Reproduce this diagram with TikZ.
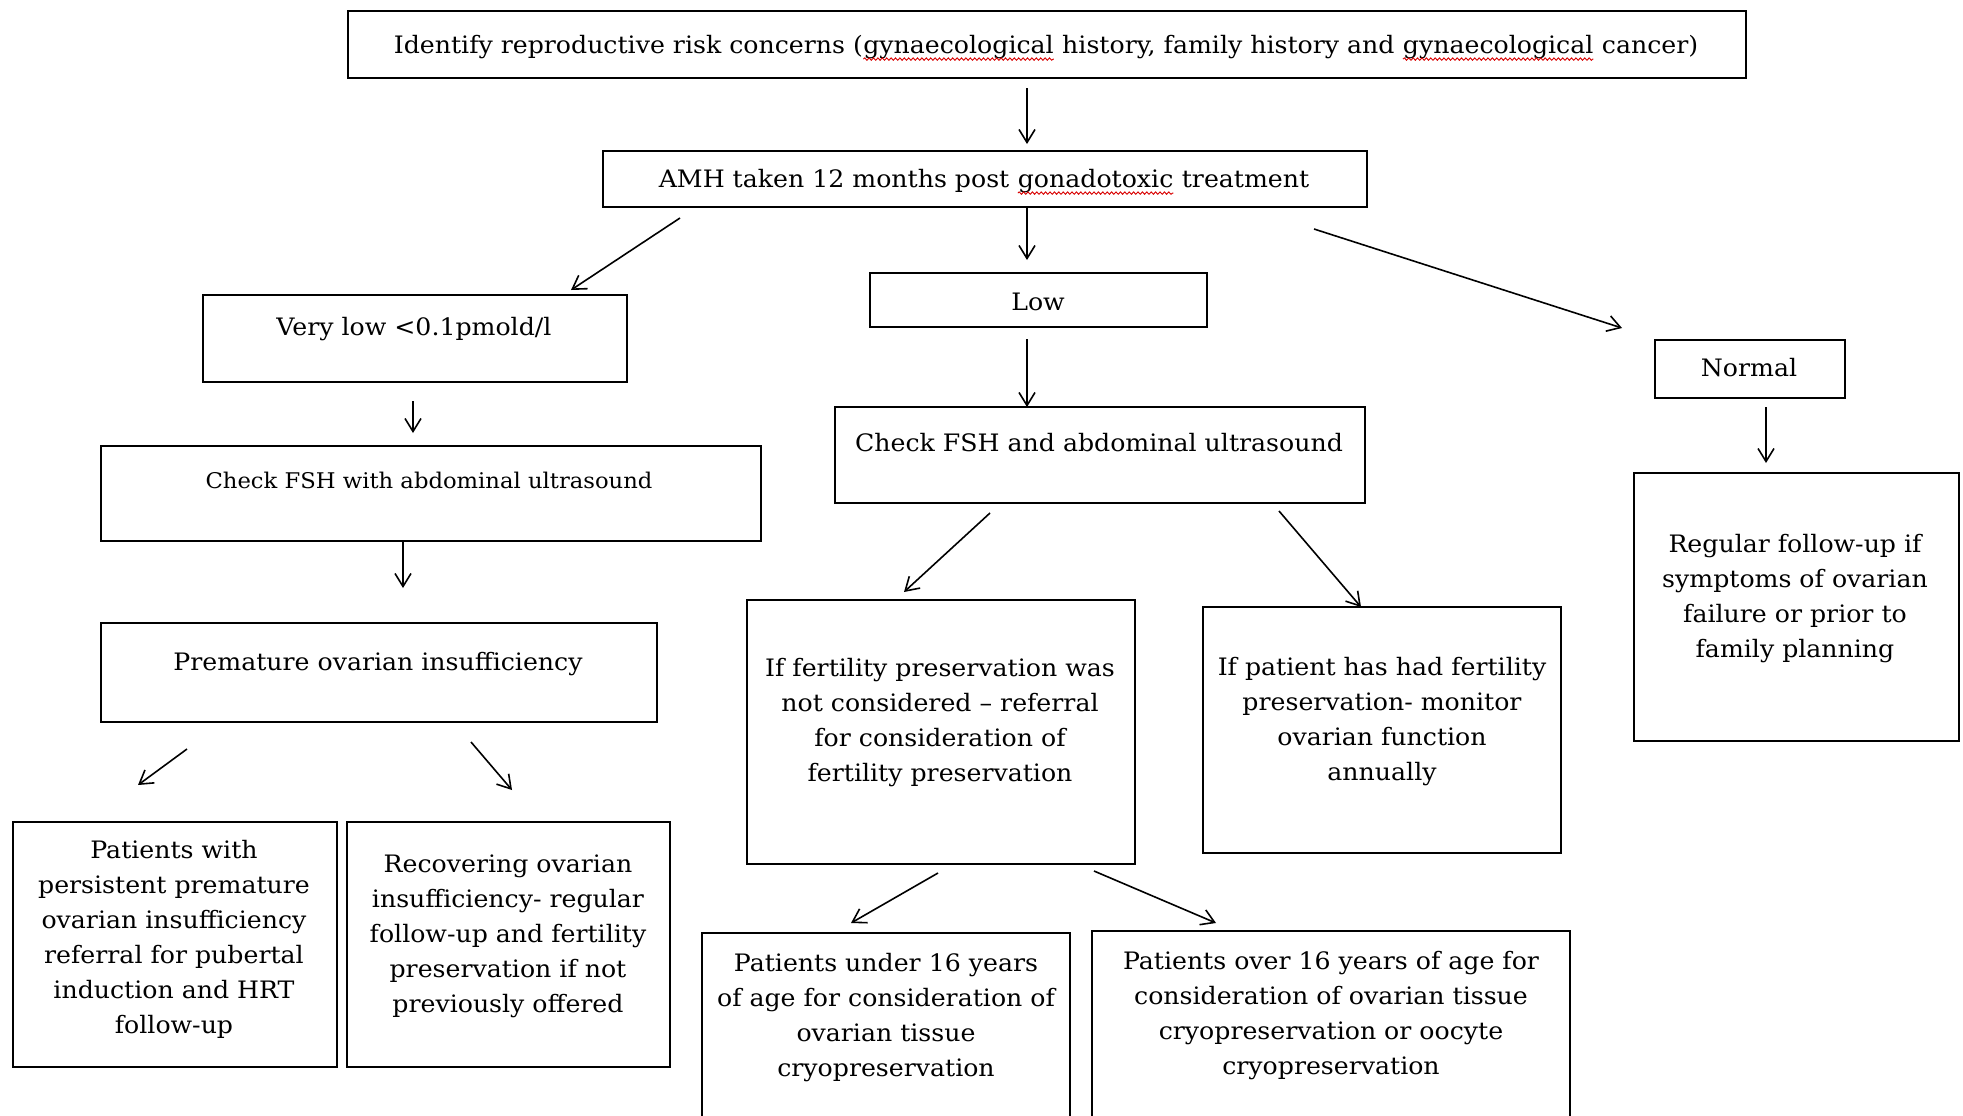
\documentclass[tikz,border=0pt]{standalone}
\usepackage{fontspec}
\setmainfont{DejaVu Serif}
\newfontfamily\wideface{DejaVu Serif}[FakeStretch=1.05]
\usetikzlibrary{arrows.meta,decorations.pathmorphing}

% word with a red wavy spell-check underline
\newcommand\spellmark[1]{\tikz[baseline=(sw.base)]{%
  \node[inner sep=0pt,outer sep=0pt] (sw) {#1};%
  \draw[red!85!black,line width=0.45pt,decorate,
        decoration={snake,amplitude=0.6pt,segment length=2.2pt}]
    ([yshift=-2.6pt]sw.base west) -- ([yshift=-2.6pt]sw.base east);}}

% empty framed box given by its corners (x1,y1) (x2,y2)
\newcommand\boxat[5]{\node[box, minimum width={(#4-#2)*0.5pt},
  minimum height={(#5-#3)*0.5pt}] (#1) at ({(#2+#4)/2},{(#3+#5)/2}) {};}

\tikzset{
  box/.style={draw=black, line width=1pt, inner sep=0pt, outer sep=0pt},
  txt/.style={inner sep=0pt, align=center, text=black, yshift=-1.6pt,
              font=\wideface\fontsize{12}{17.5}\selectfont},
  stxt/.style={txt, font=\wideface\fontsize{10.8}{16}\selectfont},
  arr/.style={-{Straight Barb[length=6.5pt,width=8pt]}, line width=0.8pt, draw=black},
}

\begin{document}
\begin{tikzpicture}[x=0.5pt,y=-0.5pt]
\clip (0,0) rectangle (1963,1115);
\fill[white] (0,0) rectangle (1963,1115);

% boxes
\boxat{top}{348}{11}{1746}{78}
\boxat{amh}{603}{151}{1367}{207}
\boxat{vlow}{203}{295}{627}{382}
\boxat{low}{870}{273}{1207}{327}
\boxat{norm}{1655}{340}{1845}{398}
\boxat{fshw}{101}{446}{761}{541}
\boxat{fsha}{835}{407}{1365}{503}
\boxat{poi}{101}{623}{657}{722}
\boxat{persist}{13}{822}{337}{1067}
\boxat{recover}{347}{822}{670}{1067}
\boxat{notcons}{747}{600}{1135}{864}
\boxat{hadfp}{1203}{607}{1561}{853}
\boxat{regular}{1634}{473}{1959}{741}
\boxat{under}{702}{933}{1070}{1140}
\boxat{over}{1092}{931}{1570}{1140}

% texts
\node[txt] (top-t) at (1046,45) {Identify reproductive risk concerns (\spellmark{gynaecological} history, family history and \spellmark{gynaecological} cancer)};
\node[txt] (amh-t) at (984,179) {AMH taken 12 months post \spellmark{gonadotoxic} treatment};
\node[txt] (vlow-t) at (414,326) {Very low <0.1pmold/l};
\node[txt] (low-t) at (1038,299) {Low};
\node[txt] (norm-t) at (1749,364) {Normal};
\node[stxt] (fshw-t) at (429,477) {Check FSH with abdominal ultrasound};
\node[txt] (fsha-t) at (1099,439) {Check FSH and abdominal ultrasound};
\node[txt] (poi-t) at (378,661) {Premature ovarian insufficiency};
\node[txt] (persist-t) at (174,936) {Patients with\\persistent premature\\ovarian insufficiency\\referral for pubertal\\induction and HRT\\follow-up};
\node[txt] (recover-t) at (508,933) {Recovering ovarian\\insufficiency- regular\\follow-up and fertility\\preservation if not\\previously offered};
\node[txt] (notcons-t) at (940,719) {If fertility preservation was\\not considered – referral\\for consideration of\\fertility preservation};
\node[txt] (hadfp-t) at (1382,718) {If patient has had fertility\\preservation- monitor\\ovarian function\\annually};
\node[txt] (regular-t) at (1795,595) {Regular follow-up if\\symptoms of ovarian\\failure or prior to\\family planning};
\node[txt] (under-t) at (886,1014) {Patients under 16 years\\of age for consideration of\\ovarian tissue\\cryopreservation};
\node[txt] (over-t) at (1331,1012) {Patients over 16 years of age for\\consideration of ovarian tissue\\cryopreservation or oocyte\\cryopreservation};

% connector end points
\coordinate (top-o) at (1027,88);   \coordinate (amh-i) at (1027,144);
\coordinate (amh-o1) at (680,218);  \coordinate (vlow-i) at (571,290);
\coordinate (amh-o2) at (1027,208); \coordinate (low-i) at (1027,260);
\coordinate (amh-o3) at (1314,229); \coordinate (norm-i) at (1622,328);
\coordinate (vlow-o) at (413,401);  \coordinate (fshw-i) at (413,433);
\coordinate (low-o) at (1027,339);  \coordinate (fsha-i) at (1027,407);
\coordinate (fshw-o) at (403,542);  \coordinate (poi-i) at (403,588);
\coordinate (poi-o1) at (187,749);  \coordinate (persist-i) at (138,785);
\coordinate (poi-o2) at (471,742);  \coordinate (recover-i) at (512,790);
\coordinate (fsha-o1) at (990,513); \coordinate (notcons-i) at (904,592);
\coordinate (fsha-o2) at (1279,511);\coordinate (hadfp-i) at (1361,607);
\coordinate (norm-o) at (1766,407); \coordinate (regular-i) at (1766,463);
\coordinate (notcons-o1) at (938,873); \coordinate (under-i) at (851,923);
\coordinate (notcons-o2) at (1094,871);\coordinate (over-i) at (1216,923);

% connectors
\draw[arr] (top-o) -- (amh-i);
\draw[arr] (amh-o1) -- (vlow-i);
\draw[arr] (amh-o2) -- (low-i);
\draw[arr] (amh-o3) -- (norm-i);
\draw[arr] (vlow-o) -- (fshw-i);
\draw[arr] (low-o) -- (fsha-i);
\draw[arr] (fshw-o) -- (poi-i);
\draw[arr] (poi-o1) -- (persist-i);
\draw[arr] (poi-o2) -- (recover-i);
\draw[arr] (fsha-o1) -- (notcons-i);
\draw[arr] (fsha-o2) -- (hadfp-i);
\draw[arr] (norm-o) -- (regular-i);
\draw[arr] (notcons-o1) -- (under-i);
\draw[arr] (notcons-o2) -- (over-i);
\end{tikzpicture}
\end{document}
